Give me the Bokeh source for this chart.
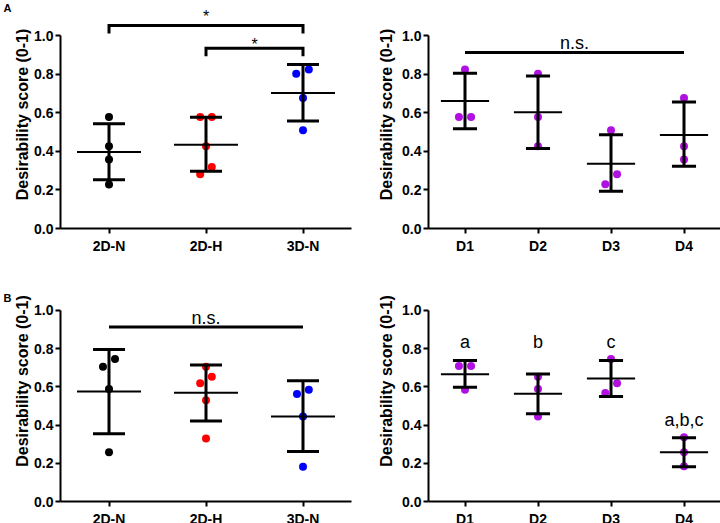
from bokeh.plotting import figure
from bokeh.layouts import column, row
from bokeh.models import FixedTicker, Range1d, LinearAxis, NumeralTickFormatter
from bokeh.core.properties import value
from bokeh.embed import file_html
from bokeh.resources import INLINE

FONT = "Liberation Sans"

# ---------------- Panel A, left ----------------
a1_groups = ["2D-N", "2D-H", "3D-N"]
a1_colors = ["#000000", "#ff0000", "#0000ff"]
a1_values = [[0.578, 0.426, 0.357, 0.228],
             [0.578, 0.578, 0.426, 0.319, 0.281],
             [0.802, 0.824, 0.676, 0.509]]
a1_jitter = [[0, 0, 0, 0],
             [-0.06, 0.06, 0, 0.06, -0.06],
             [-0.07, 0.06, 0, 0]]
a1_mean = [0.397, 0.434, 0.702]
a1_low = [0.253, 0.297, 0.557]
a1_high = [0.543, 0.577, 0.850]
a1_brackets = [(0, 2, 1.052, "*", 1.100), (1, 2, 0.934, "*", 0.955)]

# ---------------- Panel A, right ----------------
a2_groups = ["D1", "D2", "D3", "D4"]
a2_colors = ["#b010e0"] * 4
a2_values = [[0.578, 0.578, 0.824],
             [0.802, 0.578, 0.426],
             [0.509, 0.281, 0.229],
             [0.676, 0.426, 0.357]]
a2_jitter = [[-0.083, 0.083, 0],
             [0, 0, 0],
             [0, 0.083, -0.078],
             [0, 0, 0]]
a2_mean = [0.660, 0.602, 0.336, 0.484]
a2_low = [0.517, 0.414, 0.193, 0.322]
a2_high = [0.805, 0.790, 0.486, 0.655]
a2_lines = [(0, 3, 0.912, "n.s.", 0.959)]

# ---------------- Panel B, left ----------------
b1_groups = ["2D-N", "2D-H", "3D-N"]
b1_colors = ["#000000", "#ff0000", "#0000ff"]
b1_values = [[0.705, 0.745, 0.589, 0.258],
             [0.705, 0.653, 0.619, 0.529, 0.329],
             [0.562, 0.584, 0.445, 0.182]]
b1_jitter = [[-0.062, 0.062, 0, 0],
             [0, 0.06, -0.06, 0, 0],
             [-0.062, 0.06, 0, 0]]
b1_mean = [0.575, 0.569, 0.445]
b1_low = [0.354, 0.421, 0.262]
b1_high = [0.795, 0.714, 0.631]
b1_lines = [(0, 2, 0.913, "n.s.", 0.962)]

# ---------------- Panel B, right ----------------
b2_groups = ["D1", "D2", "D3", "D4"]
b2_colors = ["#b010e0"] * 4
b2_values = [[0.709, 0.709, 0.584],
             [0.653, 0.589, 0.445],
             [0.745, 0.619, 0.567],
             [0.336, 0.258, 0.185]]
b2_jitter = [[-0.083, 0.083, 0],
             [0, 0, 0],
             [0, 0.083, -0.078],
             [0, 0, 0]]
b2_mean = [0.666, 0.563, 0.643, 0.258]
b2_low = [0.598, 0.459, 0.549, 0.182]
b2_high = [0.737, 0.667, 0.737, 0.333]
b2_letters = ["a", "b", "c", "a,b,c"]
b2_letter_y = [0.832, 0.832, 0.832, 0.424]

panel_letters = ["A", "B"]
panel_letter_y = [1.14, 1.063]

y_ticks = [0.0, 0.2, 0.4, 0.6, 0.8, 1.0]
CAP = 0.165
MEAN_HALF = 0.33


def make_panel(groups, colors, values, jitter, mean, low, high,
               width, height, bl, br, bb, x_end, y_end, letter=None, letter_y=None):
    p = figure(width=width, height=height, output_backend="svg",
               toolbar_location=None,
               x_range=Range1d(-0.5, x_end), y_range=Range1d(0, y_end),
               min_border_left=bl, min_border_right=br,
               min_border_top=0, min_border_bottom=bb)
    p.outline_line_color = None
    p.grid.visible = False
    p.background_fill_color = "white"
    p.border_fill_color = "white"

    # points
    for i, (vals, jit, col) in enumerate(zip(values, jitter, colors)):
        p.scatter([i + j for j in jit], vals, size=8, color=col, line_color=None)

    idx = list(range(len(groups)))
    p.segment(x0=idx, y0=low, x1=idx, y1=high, line_width=3, line_color="black")
    p.segment(x0=[i - CAP for i in idx], y0=high, x1=[i + CAP for i in idx], y1=high,
              line_width=3, line_color="black")
    p.segment(x0=[i - CAP for i in idx], y0=low, x1=[i + CAP for i in idx], y1=low,
              line_width=3, line_color="black")
    p.segment(x0=[i - MEAN_HALF for i in idx], y0=mean, x1=[i + MEAN_HALF for i in idx], y1=mean,
              line_width=2, line_color="black")

    # axes
    p.xaxis.ticker = FixedTicker(ticks=idx)
    p.xaxis.major_label_overrides = {i: g for i, g in enumerate(groups)}
    p.yaxis.ticker = FixedTicker(ticks=y_ticks)
    p.yaxis.formatter = NumeralTickFormatter(format="0.0")
    p.yaxis.bounds = (0, 1)
    p.yaxis.axis_label = "Desirability score (0-1)"
    for ax in (p.xaxis, p.yaxis):
        ax.axis_line_width = 2
        ax.axis_line_color = "black"
        ax.major_tick_line_width = 2
        ax.major_tick_line_color = "black"
        ax.major_tick_in = 0
        ax.major_tick_out = 5
        ax.minor_tick_line_color = None
        ax.major_label_text_font = FONT
        ax.major_label_text_font_style = "bold"
        ax.major_label_text_font_size = "14px"
        ax.major_label_text_color = "black"
    p.xaxis.major_label_standoff = 4
    p.yaxis.major_label_standoff = 2
    p.yaxis.axis_label_text_font = FONT
    p.yaxis.axis_label_text_font_style = "bold"
    p.yaxis.axis_label_text_font_size = "16px"
    p.yaxis.axis_label_text_color = "black"
    p.yaxis.axis_label_standoff = 4 if letter is None else 0

    if letter is not None:
        # panel letter, drawn as the single label of a bare outer axis
        lab = LinearAxis(ticker=FixedTicker(ticks=[letter_y]),
                         major_label_overrides={letter_y: letter},
                         axis_line_color=None, major_tick_line_color=None,
                         minor_tick_line_color=None, major_tick_in=0, major_tick_out=0,
                         major_label_standoff=0,
                         major_label_text_font=FONT, major_label_text_font_style="bold",
                         major_label_text_font_size="11px", major_label_text_color="black")
        p.add_layout(lab, "left")
    return p


def add_bracket(p, x0, x1, y, leg):
    p.line([x0, x0, x1, x1], [y - leg, y, y, y - leg], line_width=3,
           line_color="black", line_join="miter")


# geometry (page origin at top-left of window)
TOP_H, BOT_H = 260, 269
LEFT_W, RIGHT_W = 364, 356
p1 = make_panel(a1_groups, a1_colors, a1_values, a1_jitter, a1_mean, a1_low, a1_high,
                LEFT_W, TOP_H, 60, 13, 32, 2.5, 228 / 193,
                panel_letters[0], panel_letter_y[0])
p2 = make_panel(a2_groups, a2_colors, a2_values, a2_jitter, a2_mean, a2_low, a2_high,
                RIGHT_W, TOP_H, 64, 0, 32, 3.5, 228 / 193)
p3 = make_panel(b1_groups, b1_colors, b1_values, b1_jitter, b1_mean, b1_low, b1_high,
                LEFT_W, BOT_H, 60, 13, 27, 2.5, 242 / 192,
                panel_letters[1], panel_letter_y[1])
p4 = make_panel(b2_groups, b2_colors, b2_values, b2_jitter, b2_mean, b2_low, b2_high,
                RIGHT_W, BOT_H, 64, 0, 27, 3.5, 242 / 192)

# significance brackets A left
for x0, x1, y, txt, ty in a1_brackets:
    add_bracket(p1, x0, x1, y, 0.042)
    p1.text(x=[(x0 + x1) / 2], y=[ty], text=[txt], text_font=value(FONT),
            text_font_size="16px", text_align="center", text_baseline="alphabetic",
            text_color="black")

for p, lines in ((p2, a2_lines), (p3, b1_lines)):
    for x0, x1, y, txt, ty in lines:
        p.line([x0, x1], [y, y], line_width=3, line_color="black")
        p.text(x=[(x0 + x1) / 2], y=[ty], text=[txt], text_font=value(FONT),
               text_font_size="18px", text_align="center", text_baseline="alphabetic",
               text_color="black")

p4.text(x=list(range(len(b2_letters))), y=b2_letter_y, text=b2_letters,
        text_font=value(FONT), text_font_size="18px", text_align="center",
        text_baseline="alphabetic", text_color="black")

layout = column(row(p1, p2), row(p3, p4))
open("out.html", "w").write(file_html(layout, INLINE))
